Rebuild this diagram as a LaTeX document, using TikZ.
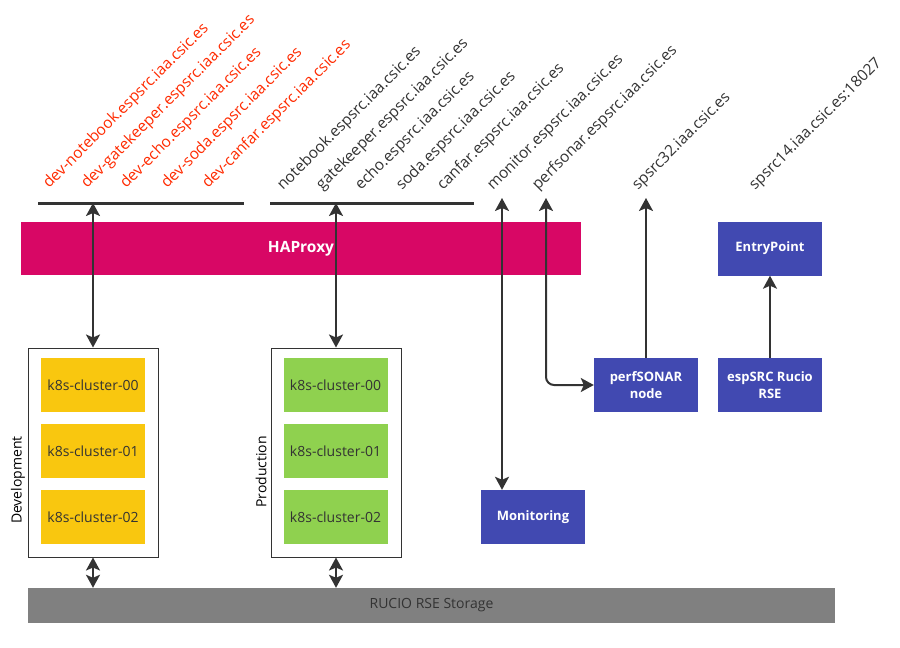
\documentclass[tikz,border=0pt]{standalone}
\usepackage{fontspec}
\setmainfont{Open Sans}
\usetikzlibrary{arrows.meta}

\definecolor{hapink}{HTML}{D80765}
\definecolor{srvblue}{HTML}{4149B1}
\definecolor{devyellow}{HTML}{F9C70F}
\definecolor{prodgreen}{HTML}{8FD14F}
\definecolor{storegray}{HTML}{808080}
\definecolor{devred}{HTML}{FF2A00}
\definecolor{linegray}{HTML}{333333}

\begin{document}
\begin{tikzpicture}[x=1pt,y=-1pt,
    font=\fontsize{14}{17}\selectfont,
    box/.style={inner sep=0pt, minimum width=104pt, minimum height=54pt, align=center},
    srv/.style={box, fill=srvblue, text=white, font=\fontsize{13}{17}\selectfont\bfseries},
    devcl/.style={box, fill=devyellow, text=linegray},
    prodcl/.style={box, fill=prodgreen, text=linegray},
    envbox/.style={draw=linegray, line width=1pt, fill=white, inner sep=0pt, minimum width=130pt, minimum height=209pt},
    host/.style={anchor=base west, rotate=45, inner sep=0pt, text=linegray, font=\fontsize{15.5}{18}\selectfont},
    devhost/.style={host, text=devred},
    bar/.style={line width=3pt, linegray},
    arr/.style={line width=2pt, linegray, arrows={Stealth[length=13pt,width=14pt,inset=3pt]-Stealth[length=13pt,width=14pt,inset=3pt]}},
    oneway/.style={line width=2pt, linegray, -{Stealth[length=13pt,width=14pt,inset=3pt]}}]

    % Cornice
    \useasboundingbox (0,0) rectangle (900,648);

    % Nomi host
    \node[devhost] (hdevnb) at (49,189) {dev-notebook.espsrc.iaa.csic.es};
    \node[devhost] (hdevgk) at (87,189) {dev-gatekeeper.espsrc.iaa.csic.es};
    \node[devhost] (hdevecho) at (126,189) {dev-echo.espsrc.iaa.csic.es};
    \node[devhost] (hdevsoda) at (167,189) {dev-soda.espsrc.iaa.csic.es};
    \node[devhost] (hdevcanfar) at (208,189) {dev-canfar.espsrc.iaa.csic.es};
    \node[host] (hnb) at (283,191) {notebook.espsrc.iaa.csic.es};
    \node[host] (hgk) at (322,191) {gatekeeper.espsrc.iaa.csic.es};
    \node[host] (hecho) at (361,191) {echo.espsrc.iaa.csic.es};
    \node[host] (hsoda) at (402,191) {soda.espsrc.iaa.csic.es};
    \node[host] (hcanfar) at (443,191) {canfar.espsrc.iaa.csic.es};
    \node[host] (hmonitor) at (493,191) {monitor.espsrc.iaa.csic.es};
    \node[host] (hperfsonar) at (538,191) {perfsonar.espsrc.iaa.csic.es};
    \node[host] (hspsrc32) at (638,191) {spsrc32.iaa.csic.es};
    \node[host] (hspsrc14) at (755,191) {spsrc14.iaa.csic.es:18027};

    % Barre dei nomi
    \coordinate (devbarL) at (38,203);
    \coordinate (devbarR) at (244,203);
    \coordinate (prodbarL) at (270,203);
    \coordinate (prodbarR) at (474,203);
    \draw[bar] (devbarL) -- (devbarR);
    \draw[bar] (prodbarL) -- (prodbarR);

    % HAProxy
    \node[fill=hapink, text=white, font=\fontsize{15.5}{18}\selectfont\bfseries, inner sep=0pt,
        minimum width=560pt, minimum height=53pt] (haproxy) at (301,248.5) {HAProxy};

    % Ambienti
    \node[envbox] (devbox) at (93,452.5) {};
    \node[envbox] (prodbox) at (336,452.5) {};
    \node[rotate=90] (devlabel) at (18,480) {Development};
    \node[rotate=90] (prodlabel) at (261,472) {Production};

    % Cluster
    \node[devcl] (dev00) at (93,385) {k8s-cluster-00};
    \node[devcl] (dev01) at (93,451) {k8s-cluster-01};
    \node[devcl] (dev02) at (93,517) {k8s-cluster-02};
    \node[prodcl] (prod00) at (335.5,385) {k8s-cluster-00};
    \node[prodcl] (prod01) at (335.5,451) {k8s-cluster-01};
    \node[prodcl] (prod02) at (335.5,517) {k8s-cluster-02};

    % Servizi
    \node[srv] (monitoring) at (533,517) {Monitoring};
    \node[srv] (perfsonar) at (646,385) {perfSONAR\\node};
    \node[srv] (rse) at (770,385) {espSRC Rucio\\RSE};
    \node[srv] (entry) at (770,248.5) {EntryPoint};

    % Storage
    \node[fill=storegray, text=linegray, inner sep=0pt, minimum width=807pt, minimum height=35pt]
        (storage) at (431.5,605.5) {RUCIO RSE Storage};

    % Frecce
    \coordinate (monitortop) at (502,198);
    \coordinate (perfsonartop) at (546,198);
    \coordinate (spsrctop) at (646,198);
    \draw[arr] (devbox.north |- devbarL) -- (devbox.north);
    \draw[arr] (prodbox.north |- prodbarL) -- (prodbox.north);
    \draw[arr] (devbox.south) -- (devbox.south |- storage.north);
    \draw[arr] (prodbox.south) -- (prodbox.south |- storage.north);
    \draw[arr] (monitortop) -- (monitortop |- monitoring.north);
    \draw[arr, rounded corners=8pt] (perfsonartop) |- (perfsonar.west);
    \draw[oneway] (perfsonar.north) -- (spsrctop);
    \draw[oneway] (rse.north) -- (entry.south);
\end{tikzpicture}
\end{document}
